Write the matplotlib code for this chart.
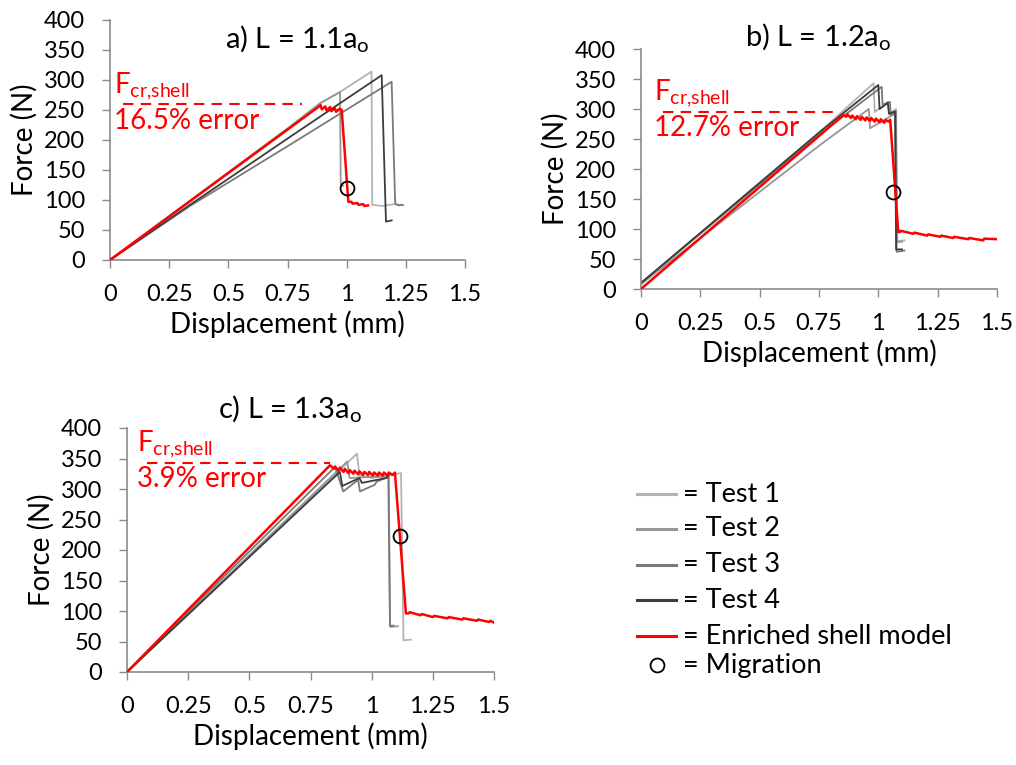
import matplotlib
matplotlib.use('Agg')
import matplotlib.pyplot as plt

plt.rcParams['font.family'] = ['Lato', 'DejaVu Sans']
plt.rcParams['mathtext.default'] = 'regular'

# colours of the four tests and the model
test_colors = ['#b3b3b3', '#969696', '#7a7a7a', '#3c3c3c']
model_color = '#ff0000'

# ---- a) L = 1.1ao ----
a_t1_x = [0, 0.76, 0.887, 0.972, 1.105, 1.108, 1.15, 1.20, 1.24]
a_t1_y = [0, 222, 261, 280, 314, 92, 90, 93, 91]
a_t2_x = [0, 0.76, 0.887, 0.972, 0.975, 0.985]
a_t2_y = [0, 222, 261, 280, 125, 124]
a_t3_x = [0, 0.338, 0.76, 1.19, 1.205, 1.22, 1.235]
a_t3_y = [0, 90, 192, 297, 94, 91, 92]
a_t4_x = [0, 0.338, 0.76, 1.148, 1.166, 1.19]
a_t4_y = [0, 92, 205, 308, 64, 66]
a_fe_x = [0, 0.88, 0.89, 0.895, 0.91, 0.915, 0.93, 0.935, 0.95, 0.955, 0.97, 0.979,
          1.007, 1.02, 1.025, 1.045, 1.05, 1.07, 1.075, 1.09]
a_fe_y = [0, 255, 258, 251, 256, 249, 255, 248, 253, 247, 252, 250,
          97, 97, 94, 95, 92, 93, 90, 91]
a_mig = (1.0, 120)
a_fcr = 259.5
a_fcr_x = (0.055, 0.81)
a_err = '16.5% error'

# ---- b) L = 1.2ao ----
b_t1_x = [0, 0.754, 0.98, 0.985, 1.04, 1.045, 1.075, 1.08, 1.11]
b_t1_y = [8, 262, 343, 295, 312, 292, 300, 80, 81]
b_t2_x = [0, 0.754, 0.96, 0.965, 1.074, 1.078, 1.10]
b_t2_y = [8, 240, 300, 268, 293, 78, 79]
b_t3_x = [0, 0.754, 1.014, 1.018, 1.049, 1.052, 1.074, 1.077, 1.11]
b_t3_y = [10, 258, 337, 307, 312, 290, 296, 62, 64]
b_t4_x = [0, 0.754, 1.0, 1.005, 1.04, 1.045, 1.07, 1.075, 1.10]
b_t4_y = [10, 262, 340, 300, 310, 292, 296, 66, 66]
b_fe_x = [0, 0.853, 0.865, 0.87, 0.885, 0.89, 0.905, 0.91, 0.925, 0.93, 0.945, 0.95,
          0.965, 0.97, 0.985, 0.99, 1.005, 1.01, 1.025, 1.03, 1.042, 1.05,
          1.084, 1.091, 1.095, 1.147, 1.151, 1.206, 1.21, 1.261, 1.265, 1.315,
          1.32, 1.379, 1.383, 1.442, 1.446, 1.50]
b_fe_y = [0, 290, 287, 291, 285, 289, 283, 288, 282, 287, 281, 286,
          280, 285, 279, 284, 278, 283, 277, 282, 279, 282,
          95, 95, 97, 92, 94, 89, 91, 87, 89, 85,
          87, 83, 85, 81, 84, 83]
b_mig = (1.062, 162)
b_fcr = 295.5
b_fcr_x = (0.093, 0.825)
b_err = '12.7% error'

# ---- c) L = 1.3ao ----
c_t1_x = [0, 0.94, 0.95, 1.00, 1.10, 1.12, 1.13, 1.16]
c_t1_y = [0, 358, 322, 318, 325, 326, 52, 53]
c_t2_x = [0, 0.90, 0.91, 1.00, 1.07, 1.075, 1.107]
c_t2_y = [0, 345, 318, 320, 320, 74, 75]
c_t3_x = [0, 0.85, 0.884, 0.945, 0.952, 1.013, 1.02, 1.068, 1.075, 1.09]
c_t3_y = [0, 336, 296, 315, 296, 307, 312, 320, 76, 76]
c_t4_x = [0, 0.87, 0.88, 0.95, 0.96, 1.06, 1.07]
c_t4_y = [0, 328, 305, 318, 310, 318, 322]
c_fe_x = [0, 0.83, 0.845, 0.85, 0.865, 0.87, 0.885, 0.89, 0.905, 0.91, 0.925, 0.93,
          0.945, 0.95, 0.965, 0.97, 0.985, 0.99, 1.005, 1.01, 1.025, 1.03, 1.045,
          1.05, 1.065, 1.07, 1.085, 1.095, 1.14, 1.15, 1.155, 1.20, 1.205, 1.25,
          1.255, 1.31, 1.315, 1.37, 1.375, 1.43, 1.435, 1.48, 1.485, 1.50]
c_fe_y = [0, 339, 333, 337, 330, 335, 328, 333, 326, 331, 325, 330,
          324, 329, 323, 328, 323, 328, 322, 327, 322, 327, 322,
          327, 322, 327, 323, 327, 96, 96, 98, 93, 95, 90, 92, 88, 90, 86, 88,
          84, 86, 82, 84, 81]
c_mig = (1.116, 223)
c_fcr = 343
c_fcr_x = (0.08, 0.83)
c_err = '3.9% error'

xticks = [0, 0.25, 0.5, 0.75, 1, 1.25, 1.5]
xticklabels = ['0', '0.25', '0.5', '0.75', '1', '1.25', '1.5']
yticks = [0, 50, 100, 150, 200, 250, 300, 350, 400]

legend_labels = ['= Test 1', '= Test 2', '= Test 3', '= Test 4',
                 '= Enriched shell model', '= Migration']

W, H = 1016, 765
fig = plt.figure(figsize=(W / 100, H / 100), dpi=100)


def px_axes(left, top, right, bottom):
    return fig.add_axes([left / W, 1 - bottom / H, (right - left) / W, (bottom - top) / H])


def draw_panel(ax, tests, fe, mig, fcr, fcr_x, err):
    for (x, y), col in zip(tests, test_colors):
        ax.plot(x, y, color=col, lw=1.3, zorder=2)
    ax.plot(fe[0], fe[1], color=model_color, lw=1.8, zorder=3)
    ax.plot([mig[0]], [mig[1]], 'o', mfc='none', mec='black', ms=10, mew=1.3, zorder=4)
    ax.plot(fcr_x, [fcr, fcr], color=model_color, lw=1.5, ls=(0, (5, 3.5)), zorder=3)
    ax.text(fcr_x[0] - 0.04, fcr + 4, r'F$_{cr{,}shell}$', color=model_color,
            fontsize=20, va='bottom', ha='left')
    ax.text(fcr_x[0] - 0.04, fcr - 6, err, color=model_color,
            fontsize=20, va='top', ha='left')
    ax.set_xlim(0, 1.5)
    ax.set_ylim(0, 400)
    ax.set_xticks(xticks)
    ax.set_xticklabels(xticklabels)
    ax.set_yticks(yticks)
    ax.tick_params(direction='out', length=6, width=1, color='#8a8a8a',
                   labelsize=17)
    ax.tick_params(axis='y', pad=12)
    ax.tick_params(axis='x', pad=11)
    for s in ['top', 'right']:
        ax.spines[s].set_visible(False)
    for s in ['left', 'bottom']:
        ax.spines[s].set_color('#8a8a8a')
        ax.spines[s].set_linewidth(1.2)
    ax.set_xlabel('Displacement (mm)', fontsize=20, labelpad=4)
    ax.set_ylabel('Force (N)', fontsize=20, labelpad=4)


ax_a = px_axes(110, 20, 465, 260)
draw_panel(ax_a, [(a_t1_x, a_t1_y), (a_t2_x, a_t2_y), (a_t3_x, a_t3_y), (a_t4_x, a_t4_y)],
           (a_fe_x, a_fe_y), a_mig, a_fcr, a_fcr_x, a_err)
ax_b = px_axes(641, 49, 997, 289)
draw_panel(ax_b, [(b_t1_x, b_t1_y), (b_t2_x, b_t2_y), (b_t3_x, b_t3_y), (b_t4_x, b_t4_y)],
           (b_fe_x, b_fe_y), b_mig, b_fcr, b_fcr_x, b_err)
ax_c = px_axes(127, 428, 494, 672)
draw_panel(ax_c, [(c_t1_x, c_t1_y), (c_t2_x, c_t2_y), (c_t3_x, c_t3_y), (c_t4_x, c_t4_y)],
           (c_fe_x, c_fe_y), c_mig, c_fcr, c_fcr_x, c_err)

fig.text(297 / W, 1 - 38 / H, r'a) L = 1.1a$_o$', fontsize=21, ha='center', va='center')
fig.text(818 / W, 1 - 36 / H, r'b) L = 1.2a$_o$', fontsize=21, ha='center', va='center')
fig.text(290 / W, 1 - 408 / H, r'c) L = 1.3a$_o$', fontsize=21, ha='center', va='center')

# legend drawn by hand
leg_y = [494, 529, 565, 600, 636, 665]
leg_cols = test_colors + [model_color]
for yy, col in zip(leg_y[:5], leg_cols):
    fig.add_artist(plt.Line2D([637 / W, 676 / W], [1 - yy / H, 1 - yy / H],
                              color=col, lw=2.2))
fig.add_artist(plt.Line2D([657 / W], [1 - leg_y[5] / H], marker='o', mfc='none',
                          mec='black', ms=10, mew=1.3))
for yy, lab in zip(leg_y, legend_labels):
    fig.text(683 / W, 1 - yy / H, lab, fontsize=19.5, ha='left', va='center')

fig.savefig('out.png', dpi=100)
